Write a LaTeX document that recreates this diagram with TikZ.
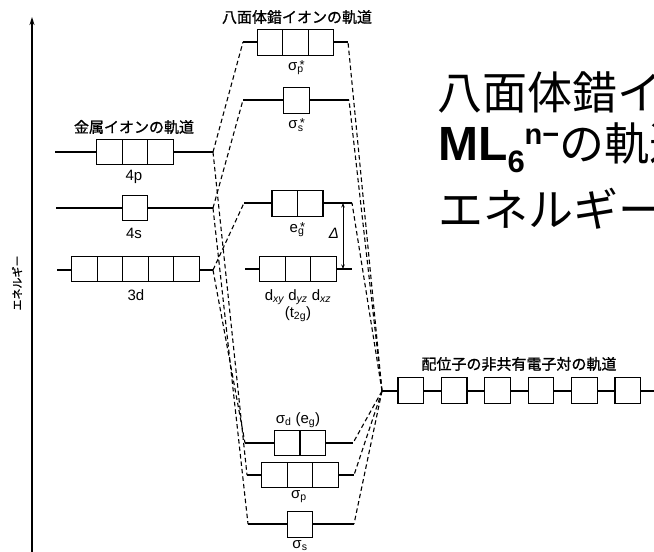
\documentclass[tikz,border=0pt]{standalone}
\usepackage{fontspec}
\setmainfont{Liberation Sans}
\newfontfamily\jp{Noto Sans CJK JP}
\newfontfamily\jpb[FakeBold=1]{Noto Sans CJK JP}
\usetikzlibrary{arrows.meta}
\tikzset{
  orb/.style={draw, fill=white, minimum width=25.5pt, minimum height=25.5pt, inner sep=0pt, line width=1.2pt},
  lvl/.style={line width=1.2pt},
  conn/.style={dash pattern=on 4.5pt off 3pt, line width=1.1pt},
  lab/.style={font=\fontsize{15}{15}\selectfont, inner sep=0pt},
  jlab/.style={font=\jpb\fontsize{15}{15}\selectfont, inner sep=0pt},
  ovl/.style={anchor=base west, inner sep=0pt},
}
\newcommand\orbrow[4]{%
  \foreach \i in {1,...,#2} \node[orb] (#1\i) at ({#3+(\i-(#2+1)/2)*25.5},#4) {};}
\newcommand\starsub[2]{#1\rlap{\raisebox{1pt}{\fontsize{13}{13}\selectfont\,*}}\textsubscript{#2}}
\begin{document}
\begin{tikzpicture}[x=1pt,y=-1pt]
\clip (0,0) rectangle (654,552);
% axis
\coordinate (ax0) at (32,552); \coordinate (ax1) at (32,17);
\draw[line width=1.3pt, -{Stealth[length=8pt,width=5pt]}] (ax0) -- (ax1);
\node[jlab, font=\jpb\fontsize{11}{11}\selectfont, rotate=90] (axl) at (17,283) {エネルギー};
% level end points
\coordinate (pL) at (55,152);  \coordinate (pR) at (213,152);
\coordinate (sL) at (56,208);  \coordinate (sR) at (213,208);
\coordinate (dL) at (57,270);  \coordinate (dR) at (213,270);
\coordinate (spsL) at (243,42);  \coordinate (spsR) at (348,42);
\coordinate (sssL) at (243,100); \coordinate (sssR) at (349,100);
\coordinate (egL) at (244,203);  \coordinate (egR) at (352,203);
\coordinate (tL) at (245,269);   \coordinate (tR) at (352,269);
\coordinate (sdL) at (245,443);  \coordinate (sdR) at (353,443);
\coordinate (spL) at (247,475);  \coordinate (spR) at (354,475);
\coordinate (ssL) at (248,524);  \coordinate (ssR) at (354,524);
\coordinate (ligL) at (382,391); \coordinate (ligR) at (660,391);
% level lines
\foreach \a in {p,s,d,sps,sss,eg,t,sd,sp,ss,lig} \draw[lvl] (\a L) -- (\a R);
% dashed correlation lines
\draw[conn] (pR) -- (spsL);
\draw[conn] (pR) -- (spL);
\draw[conn] (sR) -- (sssL);
\draw[conn] (sR) -- (ssL);
\draw[conn] (dR) -- (egL);
\draw[conn] (dR) -- (sdL);
\foreach \b in {spsR,sssR,egR,sdR,spR,ssR} \draw[conn] (ligL) -- (\b);
% boxes
\orbrow{mp}{3}{135}{152}
\orbrow{ms}{1}{135}{208}
\orbrow{md}{5}{135.5}{269}
\orbrow{ops}{3}{295.5}{42.5}
\orbrow{oss}{1}{296.5}{100.5}
\orbrow{oeg}{2}{297.5}{203.5}
\orbrow{ot}{3}{298}{269}
\orbrow{osd}{2}{300}{443}
\orbrow{osp}{3}{300}{475}
\orbrow{oso}{1}{300}{524.5}
\foreach \k in {0,...,5} \node[orb] (lg\k) at ({410.75+\k*43.4},390.5) {};
% delta arrow
\coordinate (da) at (343,203); \coordinate (db) at (343,269);
\draw[line width=0.9pt, {Stealth[length=4.5pt,width=3.5pt]}-{Stealth[length=4.5pt,width=3.5pt]}] (da) -- (db);
\node[lab, font=\itshape\fontsize{15}{15}\selectfont] (dl) at (334,233) {Δ};
% labels
\node[jlab] (tm) at (134,127) {金属イオンの軌道};
\node[lab] (l4p) at (134,177) {4p};
\node[lab] (l4s) at (134,233) {4s};
\node[lab] (l3d) at (136,295) {3d};
\node[jlab] (to) at (297,17) {八面体錯イオンの軌道};
\node[lab] (lsps) at (296,68) {\starsub{σ}{p}};
\node[lab] (lsss) at (296,125) {\starsub{σ}{s}};
\node[lab] (leg) at (297,230) {\starsub{e}{g}};
\node[lab] (lt1) at (298,297) {d\textsubscript{\itshape xy} d\textsubscript{\itshape yz} d\textsubscript{\itshape xz}};
\node[lab] (lt2) at (298,314) {(t\textsubscript{2g})};
\node[lab] (lsd) at (298,420) {σ\textsubscript{d} (e\textsubscript{g})};
\node[lab] (lsp) at (299,497) {σ\textsubscript{p}};
\node[lab] (lss) at (300,546) {σ\textsubscript{s}};
\node[jlab] (tl) at (519,364) {配位子の非共有電子対の軌道};
% overlay slide text (clipped at the right edge)
\node[ovl] (o1) at (437,109) {\jp\fontsize{45}{45}\selectfont 八面体錯イオン};
\node[ovl] (o2) at (438,160) {\fontsize{48}{48}\selectfont\bfseries ML\raisebox{-12pt}{\fontsize{31}{31}\selectfont 6}\raisebox{16pt}{\fontsize{29}{29}\selectfont n−}{\jp\mdseries\fontsize{45}{45}\selectfont の軌道}};
\node[ovl] (o3) at (438,226) {\jp\fontsize{45}{45}\selectfont エネルギー};
\end{tikzpicture}
\end{document}
